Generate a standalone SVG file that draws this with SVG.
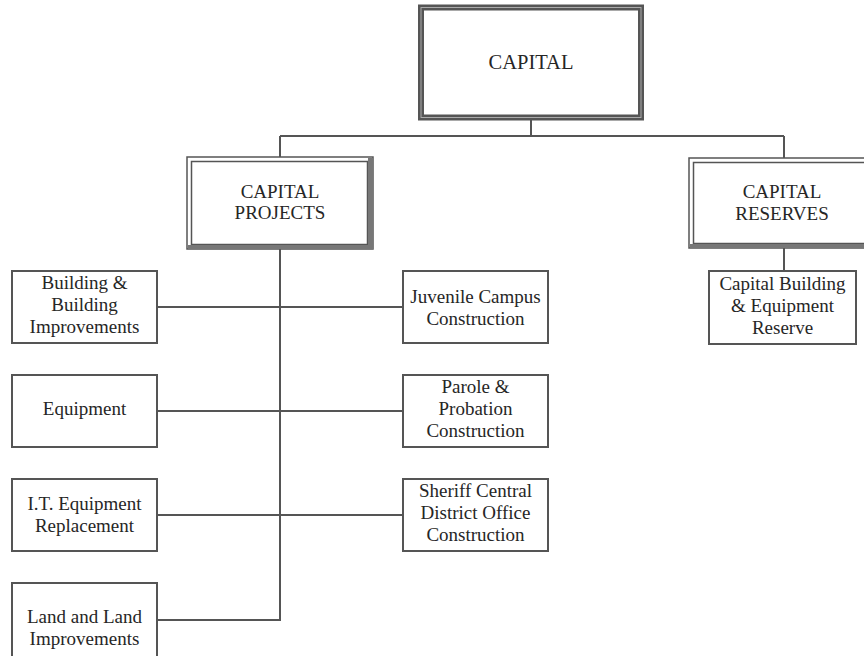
<svg xmlns="http://www.w3.org/2000/svg" width="864" height="656" viewBox="0 0 864 656" font-family="'Liberation Serif', 'DejaVu Serif', serif">
<style>
  .box { fill: #fff; stroke: #555; stroke-width: 2; }
  .dbl { fill: none; stroke: #555; stroke-width: 1.5; }
  .sh { fill: #777; }
  .conn { fill: none; stroke: #555; stroke-width: 2; }
  text { font-family: 'Liberation Serif', 'DejaVu Serif', serif; font-size: 19px; fill: #262626; text-anchor: middle; }
  .big { font-size: 20.5px; }
</style>
<rect width="864" height="656" fill="#fff"/>
<g id="connectors">
  <path class="conn" d="M531 118 V136 M280 136 H784 M280 136 V157 M784 136 V158 M784 248 V271"/>
  <path class="conn" d="M280 248 V620 H157"/>
  <path class="conn" d="M157 307 H403 M157 411 H403 M157 515 H403"/>
</g>
<g id="capital">
  <rect x="421" y="7.5" width="220" height="110" fill="#fff" stroke="#555" stroke-width="6"/>
  <rect x="421" y="7.5" width="220" height="110" fill="none" stroke="#aaa" stroke-width="1"/>
  <text class="big" x="531" y="69">CAPITAL</text>
</g>
<g id="capital-projects">
  <rect x="187" y="157" width="186" height="92" fill="#fff" stroke="#555" stroke-width="1.5"/>
  <rect x="191.5" y="161.5" width="176" height="83" class="dbl"/>
  <rect x="368" y="158" width="5" height="91" class="sh"/>
  <rect x="188" y="245" width="185" height="4" class="sh"/>
  <text x="280" y="198">CAPITAL</text>
  <text x="280" y="219">PROJECTS</text>
</g>
<g id="capital-reserves">
  <rect x="689" y="158" width="186" height="90" fill="#fff" stroke="#555" stroke-width="1.5"/>
  <rect x="693.5" y="162.5" width="176" height="81" class="dbl"/>
  <rect x="690" y="244" width="185" height="4" class="sh"/>
  <text x="782" y="198">CAPITAL</text>
  <text x="782" y="220">RESERVES</text>
</g>
<g id="capital-building-reserve">
  <rect class="box" x="709" y="271" width="147" height="73"/>
  <text x="782.5" y="290">Capital Building</text>
  <text x="782.5" y="312">&amp; Equipment</text>
  <text x="782.5" y="334">Reserve</text>
</g>
<g id="building">
  <rect class="box" x="12" y="271" width="145" height="72"/>
  <text x="84.5" y="289">Building &amp;</text>
  <text x="84.5" y="311">Building</text>
  <text x="84.5" y="333">Improvements</text>
</g>
<g id="equipment">
  <rect class="box" x="12" y="375" width="145" height="72"/>
  <text x="84.5" y="415">Equipment</text>
</g>
<g id="it-equipment">
  <rect class="box" x="12" y="479" width="145" height="72"/>
  <text x="84.5" y="510">I.T. Equipment</text>
  <text x="84.5" y="532">Replacement</text>
</g>
<g id="land">
  <rect class="box" x="12" y="583" width="145" height="80"/>
  <text x="84.5" y="623">Land and Land</text>
  <text x="84.5" y="645">Improvements</text>
</g>
<g id="juvenile">
  <rect class="box" x="403" y="271" width="145" height="72"/>
  <text x="475.5" y="303">Juvenile Campus</text>
  <text x="475.5" y="325">Construction</text>
</g>
<g id="parole">
  <rect class="box" x="403" y="375" width="145" height="72"/>
  <text x="475.5" y="393">Parole &amp;</text>
  <text x="475.5" y="415">Probation</text>
  <text x="475.5" y="437">Construction</text>
</g>
<g id="sheriff">
  <rect class="box" x="403" y="479" width="145" height="72"/>
  <text x="475.5" y="497">Sheriff Central</text>
  <text x="475.5" y="519">District Office</text>
  <text x="475.5" y="541">Construction</text>
</g>
</svg>
